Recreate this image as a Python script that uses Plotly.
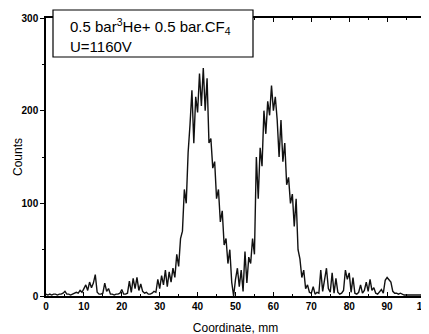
import plotly.graph_objects as go

# channel start and width (mm)
x_start = 0.0
x_step = 0.5

counts = [
    2, 1, 2, 1, 2, 2, 1, 2, 2, 3, 5, 2, 2, 1, 2, 3, 4, 3, 6, 4,
    8, 12, 6, 15, 9, 14, 23, 4, 2, 2,
    3, 14, 5, 8, 2, 2, 1, 2, 2, 3,
    7, 2, 2, 3, 16, 4, 19, 8, 20, 6,
    13, 5, 3, 4, 2, 2, 3, 5, 4, 18,
    8, 22, 12, 28, 10, 26, 15, 30, 20, 45,
    32, 62, 70, 115, 100, 155, 185, 222, 165, 215,
    198, 240, 205, 246, 200, 235, 165, 170, 138, 145,
    105, 115, 80, 92, 55, 62, 35, 50, 15, 0,
    18, 30, 10, 28, 5, 48, 14, 42, 35, 62,
    45, 150, 105, 160, 140, 200, 175, 210, 195, 227,
    200, 215, 190, 150, 190, 145, 165, 120, 128, 100,
    110, 75, 105, 50, 40, 20, 28, 8, 12, 4,
    3, 10, 2, 4, 3, 28, 5, 18, 30, 8,
    4, 25, 3, 19, 4, 2, 3, 6, 28, 18,
    25, 4, 20, 3, 2, 4, 12, 3, 6, 15,
    5, 18, 6, 9, 3, 2, 4, 7, 3, 17,
    20, 18, 15, 5, 3, 3, 2, 3, 2, 1,
    1, 1, 1, 1, 1, 1, 1, 1, 1, 1, 1,
]
coords = [x_start + i * x_step for i in range(len(counts))]

x_ticks = [0, 10, 20, 30, 40, 50, 60, 70, 80, 90, 100]
y_ticks = [0, 100, 200, 300]
label_text = "0.5 bar<sup>3</sup>He+ 0.5 bar.CF<sub>4</sub><br>U=1160V"
x_title = "Coordinate, mm"
y_title = "Counts"

FONT = "Liberation Sans, Arial, sans-serif"

fig = go.Figure()
fig.add_trace(go.Scatter(
    x=coords, y=counts, mode="lines",
    line=dict(color="#111111", width=1.4),
    hoverinfo="skip", showlegend=False,
))

# page body has an 8px default margin, so the figure is offset by 8px
fig.update_layout(
    width=429, height=334,
    margin=dict(l=38, r=12, t=10, b=46),
    paper_bgcolor="white", plot_bgcolor="white",
    font=dict(family=FONT, color="black"),
    showlegend=False,
)
fig.update_xaxes(
    range=[0, 100], tickvals=x_ticks, ticktext=[str(v) for v in x_ticks],
    automargin=False,
    showgrid=False, zeroline=False,
    showline=True, linecolor="black", linewidth=1.5, mirror="allticks",
    ticks="inside", ticklen=4, tickwidth=1, tickcolor="black",
    minor=dict(dtick=5, ticks="inside", ticklen=2.5, tickcolor="black"),
    tickfont=dict(size=10, family=FONT, color="black", weight="bold"),
    title=dict(text=x_title, font=dict(size=12, family=FONT, color="black"), standoff=13),
)
fig.update_yaxes(
    range=[0, 300], tickvals=y_ticks, ticktext=[str(v) for v in y_ticks],
    automargin=False,
    showgrid=False, zeroline=False,
    showline=True, linecolor="black", linewidth=1.5, mirror=True,
    ticks="outside", ticklen=4, tickwidth=1, tickcolor="black",
    minor=dict(dtick=50, ticks="outside", ticklen=2.5, tickcolor="black"),
    tickfont=dict(size=10, family=FONT, color="black", weight="bold"),
)

fig.add_annotation(xref="paper", yref="paper",
                   x=(18 - 46) / 379, y=0.5, xanchor="center", yanchor="middle",
                   text=y_title, textangle=-90, showarrow=False,
                   font=dict(size=12, family=FONT, color="black"))

# legend-like box
fig.add_shape(type="rect", xref="paper", yref="paper",
              x0=(53 - 46) / 379, x1=(253 - 46) / 379,
              y0=(296 - 57) / 278, y1=(296 - 10) / 278,
              line=dict(color="black", width=1.2), fillcolor="white", layer="above")
fig.add_annotation(xref="paper", yref="paper",
                   x=(68 - 46) / 379, y=(296 - 14) / 278,
                   xanchor="left", yanchor="top", align="left",
                   text=label_text, showarrow=False,
                   font=dict(size=15, family=FONT, color="black"))

fig.write_html("out.html")
